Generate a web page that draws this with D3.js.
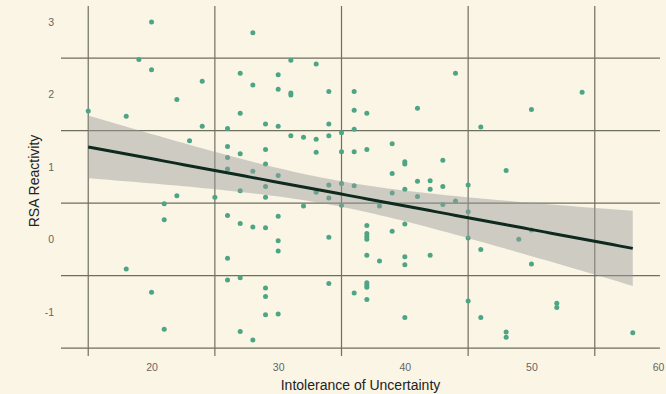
<!DOCTYPE html>
<html><head><meta charset="utf-8">
<script src="https://cdn.jsdelivr.net/npm/d3@7"></script>
<style>html,body{margin:0;padding:0;background:#faf5e4;}svg{display:block;}</style>
</head><body>
<svg id="chart" width="666" height="394"></svg>
<script>
// Intolerance of Uncertainty (x) and RSA Reactivity (y)
const iu = [15,18,18,19,20,20,20,21,21,21,22,22,23,24,24,25,
26,26,26,26,26,26,26,27,27,27,27,27,27,27,28,28,28,28,28,
29,29,29,29,29,29,29,29,29,30,30,30,30,30,30,30,30,31,31,31,31,32,32,
33,33,33,33,34,34,34,34,34,34,34,35,35,35,35,36,36,36,36,36,36,
37,37,37,37,37,37,37,37,37,37,37,38,38,39,39,39,39,
40,40,40,40,40,40,40,41,41,41,42,42,42,43,43,43,44,44,45,45,45,45,
46,46,46,48,48,48,49,50,50,50,52,52,54,58];
const rsa = [1.77,1.70,-0.41,2.48,3.00,2.34,-0.73,0.49,0.27,-1.24,1.93,0.60,1.36,2.18,1.56,0.58,
1.53,1.28,1.13,0.97,0.33,-0.26,-0.56,2.29,1.74,1.18,0.67,0.22,-0.53,-1.27,2.85,2.13,0.94,0.17,-1.39,
1.59,1.24,1.04,0.73,0.58,0.16,-0.67,-0.79,-1.04,2.27,2.07,1.56,0.88,0.32,-0.02,-0.16,-1.03,2.47,2.02,1.99,1.43,1.41,0.46,
2.42,1.38,1.20,0.65,2.04,1.59,1.43,0.75,0.57,0.03,-0.61,1.47,1.21,0.77,0.47,2.04,1.78,1.52,1.21,0.74,-0.74,
1.74,1.24,0.19,0.08,0.04,0.00,-0.22,-0.60,-0.63,-0.66,-0.83,0.46,-0.30,1.32,0.91,0.64,0.11,
1.07,1.04,0.69,0.21,-0.24,-0.35,-1.08,1.81,0.80,0.59,0.81,0.69,-0.22,1.09,0.73,0.48,2.29,0.53,0.75,0.38,0.02,-0.85,
1.55,-0.14,-1.08,0.95,-1.28,-1.35,0.00,1.79,0.13,-0.34,-0.88,-0.94,2.03,-1.29];
const xTickLabels = [20,30,40,50,60];
const yTickLabels = [-1,0,1,2,3];
const xGrid = [15,25,35,45,55];
const yGrid = [-1.5,-0.5,0.5,1.5,2.5];

const svg = d3.select("#chart");
const W = 666, H = 394;
const pL = 61, pR = 660, pT = 6, pB = 356;

const points = iu.map((v,i)=>({x:v,y:rsa[i]}));
const xExt = d3.extent(iu), yExt = d3.extent(rsa);
const xPad = (xExt[1]-xExt[0])*0.05, yPad = (yExt[1]-yExt[0])*0.05;
const x = d3.scaleLinear().domain([xExt[0]-xPad, xExt[1]+xPad]).range([pL,pR]);
const y = d3.scaleLinear().domain([yExt[0]-yPad, yExt[1]+yPad]).range([pB,pT]);

svg.append("rect").attr("width",W).attr("height",H).attr("fill","#faf5e4");

// grid lines
const g = svg.append("g");
g.selectAll(".vg").data(xGrid).join("line")
  .attr("x1",d=>x(d)).attr("x2",d=>x(d)).attr("y1",pT).attr("y2",pB)
  .attr("stroke","#6f6f60").attr("stroke-width",1.2);
g.selectAll(".hg").data(yGrid).join("line")
  .attr("y1",d=>y(d)).attr("y2",d=>y(d)).attr("x1",pL).attr("x2",pR)
  .attr("stroke","#6f6f60").attr("stroke-width",1.2);

// points
svg.append("g").selectAll("circle").data(points).join("circle")
  .attr("cx",d=>x(d.x)).attr("cy",d=>y(d.y)).attr("r",2.5)
  .attr("fill","#4ea585");

// linear fit with 95% CI
const n = points.length;
const mx = d3.mean(iu), my = d3.mean(rsa);
let sxx=0, sxy=0;
points.forEach(p=>{sxx+=(p.x-mx)**2; sxy+=(p.x-mx)*(p.y-my);});
const b = sxy/sxx, a = my - b*mx;
let sse=0; points.forEach(p=>{sse+=(p.y-(a+b*p.x))**2;});
const s = Math.sqrt(sse/(n-2));
const tcrit = 1.979;
const fit = d3.range(0,81).map(i=>{
  const xv = xExt[0] + (xExt[1]-xExt[0])*i/80;
  const yh = a + b*xv;
  const se = s*Math.sqrt(1/n + (xv-mx)**2/sxx);
  return {x:xv, y:yh, lo:yh-tcrit*se, hi:yh+tcrit*se};
});
svg.append("path").datum(fit)
  .attr("d", d3.area().x(d=>x(d.x)).y0(d=>y(d.lo)).y1(d=>y(d.hi)))
  .attr("fill","#999999").attr("fill-opacity",0.45);
svg.append("path").datum(fit)
  .attr("d", d3.line().x(d=>x(d.x)).y(d=>y(d.y)))
  .attr("fill","none").attr("stroke","#0e2a1f").attr("stroke-width",3);

// axes labels
const font = "'Liberation Sans', Arial, sans-serif";
const xAxis = d3.axisBottom(x).tickValues(xTickLabels).tickSize(0).tickPadding(8);
const xg = svg.append("g").attr("transform",`translate(0,${pB})`).call(xAxis);
xg.select(".domain").remove();
xg.selectAll("text").attr("font-family",font).attr("font-size","10.5px").attr("fill","#666");

const yAxis = d3.axisLeft(y).tickValues(yTickLabels).tickSize(0).tickPadding(8).tickFormat(d=>String(d));
const yg = svg.append("g").attr("transform",`translate(${pL+1},0)`).call(yAxis);
yg.select(".domain").remove();
yg.selectAll("text").attr("font-family",font).attr("font-size","10.5px").attr("fill","#666");

svg.append("text").attr("x",(pL+pR)/2).attr("y",390)
  .attr("text-anchor","middle").attr("font-family",font).attr("font-size","14px").attr("fill","#222")
  .text("Intolerance of Uncertainty");
svg.append("text").attr("transform",`translate(39,${(pT+pB)/2}) rotate(-90)`)
  .attr("text-anchor","middle").attr("font-family",font).attr("font-size","14px").attr("fill","#222")
  .text("RSA Reactivity");
</script>
</body></html>
